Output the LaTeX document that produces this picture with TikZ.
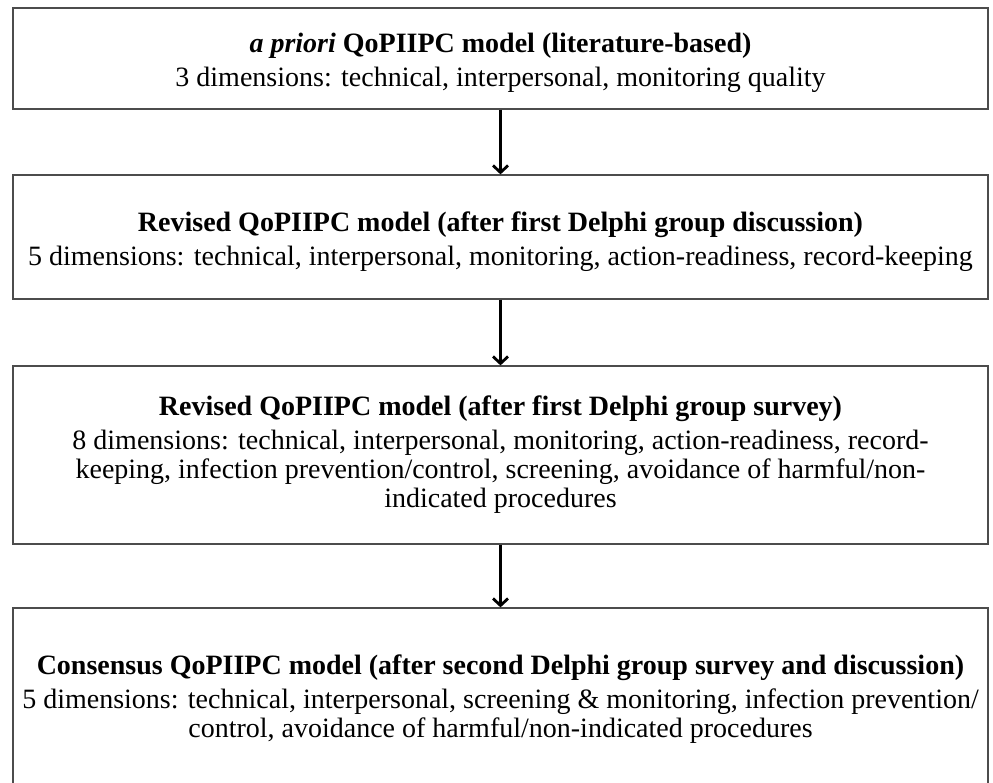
\documentclass[tikz,border=0pt]{standalone}
\usepackage{fontspec}
\setmainfont{Liberation Serif}
\usetikzlibrary{arrows.meta,positioning}
\newcommand{\boxwd}{975pt}
\newcommand{\titlegap}{\\[5pt]}
\tikzset{
    stagesty/.style={draw=black!70,line width=1.2pt,fill=white,rectangle,minimum width=\boxwd,align=center,inner sep=0pt,font=\fontsize{28}{29}\selectfont},
    lowsty/.style={text height=63pt},
    flowsty/.style={-{Straight Barb[length=7pt,width=15pt]},line width=2.8pt},
}

\begin{document}
\begin{tikzpicture}[x=1pt,y=1pt]
  \useasboundingbox (0,0) rectangle (993,-782);
  \clip (0,0) rectangle (993,-782);

  \node[stagesty,lowsty,minimum height=101pt] (S1) at (500.5,-58.5)
    {\textbf{\textit{a priori} QoPIIPC model (literature-based)}\titlegap
     3 dimensions: technical, interpersonal, monitoring quality};
  \node[stagesty,lowsty,minimum height=124pt] (S2) at (500.5,-237)
    {\textbf{Revised QoPIIPC model (after first Delphi group discussion)}\titlegap
     5 dimensions: technical, interpersonal, monitoring, action-readiness, record-keeping};
  \node[stagesty,minimum height=178pt] (S3) at (500.5,-455)
    {\textbf{Revised QoPIIPC model (after first Delphi group survey)}\titlegap
     8 dimensions: technical, interpersonal, monitoring, action-readiness, record-\\
     keeping, infection prevention/control, screening, avoidance of harmful/non-\\
     indicated procedures};
  \node[stagesty,minimum height=182pt] (S4) at (500.5,-699)
    {\textbf{Consensus QoPIIPC model (after second Delphi group survey and discussion)}\titlegap
     5 dimensions: technical, interpersonal, screening \& monitoring, infection prevention/\\
     control, avoidance of harmful/non-indicated procedures};

  \draw[flowsty] (S1) -- (S2);
  \draw[flowsty] (S2) -- (S3);
  \draw[flowsty] (S3) -- (S4);
\end{tikzpicture}
\end{document}
